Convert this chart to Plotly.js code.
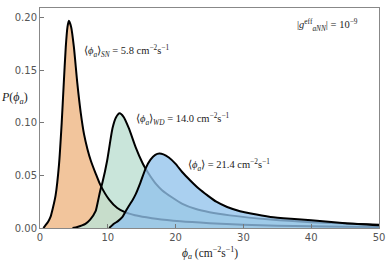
<!DOCTYPE html>
<html>
<head>
<meta charset="utf-8">
<script src="https://cdn.plot.ly/plotly-3.0.1.min.js"></script>
<style>html,body{margin:0;padding:0;background:#fff;}#chart{width:392px;height:261px;}</style>
</head>
<body>
<div id="chart"></div>
<script>
// Supernova (SN) distribution
const snX = [0.5, 0.8, 1.2, 1.55, 1.9, 2.3, 2.8, 3.2, 3.5, 3.8, 4.05, 4.26, 4.6, 5.0, 5.5, 6.0, 6.5, 7.0, 7.5, 8.2, 8.9, 10.2, 11.4, 12.6, 14.0, 15.7, 17.1, 20.7, 25, 30, 35, 40, 45, 50];
const snY = [0, 0.0025, 0.006, 0.0105, 0.019, 0.031, 0.060, 0.100, 0.137, 0.172, 0.191, 0.197, 0.191, 0.172, 0.138, 0.110, 0.089, 0.075, 0.064, 0.052, 0.041, 0.027, 0.019, 0.0148, 0.0122, 0.0102, 0.0088, 0.0064, 0.0046, 0.0031, 0.0022, 0.0016, 0.0012, 0.0009];
// White dwarf (WD) distribution
const wdX = [4.8, 5.5, 6.2, 6.7, 7.4, 8.2, 8.5, 8.9, 9.2, 9.9, 10.3, 10.7, 11.2, 11.74, 12.3, 13.1, 14.1, 15.1, 15.6, 16.3, 17.1, 18.0, 19.5, 21.0, 23.0, 25.0, 28.0, 34.0, 40.0, 50.0];
const wdY = [0, 0.001, 0.0025, 0.004, 0.008, 0.016, 0.024, 0.036, 0.043, 0.064, 0.080, 0.095, 0.105, 0.109, 0.106, 0.095, 0.077, 0.062, 0.056, 0.049, 0.042, 0.036, 0.029, 0.023, 0.018, 0.015, 0.012, 0.008, 0.0055, 0.003];
// Combined distribution
const totX = [10.2, 10.9, 11.5, 12.1, 12.6, 13.1, 13.6, 14.1, 14.8, 15.6, 16.3, 17.0, 17.6, 18.2, 19.0, 20.0, 21.0, 22.2, 23.5, 24.7, 26.0, 27.6, 29.5, 31.1, 34.0, 37.0, 40.0, 45.0, 50.0];
const totY = [0, 0.004, 0.0065, 0.010, 0.0155, 0.021, 0.026, 0.032, 0.043, 0.057, 0.065, 0.0695, 0.0708, 0.070, 0.067, 0.061, 0.053, 0.045, 0.037, 0.031, 0.025, 0.020, 0.016, 0.0137, 0.0105, 0.0087, 0.0073, 0.0045, 0.0026];

const xTicks = [0, 10, 20, 30, 40, 50];
const yTicks = [0, 0.05, 0.10, 0.15, 0.20];
const yTickText = ['0.00', '0.05', '0.10', '0.15', '0.20'];

function fillTrace(x, y, color) {
  return {x: x, y: y, type: 'scatter', mode: 'lines', fill: 'tozeroy', fillcolor: color,
          line: {width: 0, shape: 'spline', smoothing: 0.6}, hoverinfo: 'skip', showlegend: false};
}
function lineTrace(x, y) {
  return {x: x, y: y, type: 'scatter', mode: 'lines',
          line: {width: 2, color: '#000', shape: 'spline', smoothing: 0.6}, hoverinfo: 'skip', showlegend: false};
}

const data = [
  fillTrace(snX, snY, 'rgb(242,197,156)'),
  fillTrace(wdX, wdY, 'rgba(192,224,212,0.85)'),
  lineTrace(snX, snY),
  lineTrace(wdX, wdY),
  fillTrace(totX, totY, 'rgba(146,195,236,0.78)'),
  lineTrace(totX, totY)
];

const serifFam = 'Liberation Serif';
const serif = {family: serifFam, size: 10.5, color: '#222'};
const tickFont = {family: 'DejaVu Sans', size: 10, color: '#555'};

const layout = {
  width: 392, height: 261,
  margin: {l: 39.5, r: 13, t: 8, b: 33},
  paper_bgcolor: '#fff', plot_bgcolor: '#fff',
  xaxis: {range: [0, 50], tickvals: xTicks, ticks: 'inside', ticklen: 4, tickcolor: '#777',
          showgrid: false, zeroline: false, showline: true, linecolor: '#888', linewidth: 1, mirror: true,
          tickfont: tickFont},
  yaxis: {range: [0, 0.2092], tickvals: yTicks, ticktext: yTickText, ticks: 'inside', ticklen: 4, tickcolor: '#777',
          showgrid: false, zeroline: false, showline: true, linecolor: '#888', linewidth: 1, mirror: true,
          tickfont: tickFont},
  annotations: [
    {x: 6.2, y: 0.168, xref: 'x', yref: 'y', xanchor: 'left', yanchor: 'middle', showarrow: false,
     text: '⟨<i>ϕ</i><sub><i>a</i></sub>⟩<sub><i>SN</i></sub> = 5.8 cm<sup>−2</sup>s<sup>−1</sup>', font: serif},
    {x: 13.8, y: 0.104, xref: 'x', yref: 'y', xanchor: 'left', yanchor: 'middle', showarrow: false,
     text: '⟨<i>ϕ</i><sub><i>a</i></sub>⟩<sub><i>WD</i></sub> = 14.0 cm<sup>−2</sup>s<sup>−1</sup>', font: serif},
    {x: 21.5, y: 0.0597, xref: 'x', yref: 'y', xanchor: 'left', yanchor: 'middle', showarrow: false,
     text: '⟨<i>ϕ</i><sub><i>a</i></sub>⟩ = 21.4 cm<sup>−2</sup>s<sup>−1</sup>', font: serif},
    {x: 37.6, y: 0.193, xref: 'x', yref: 'y', xanchor: 'left', yanchor: 'middle', showarrow: false,
     text: '|<i>g</i><sup>eff</sup><sub><i>aNN</i></sub>| = 10<sup>−9</sup>', font: serif},
    {x: 0, y: 0.1235, xref: 'paper', yref: 'y', xanchor: 'right', yanchor: 'middle', xshift: -10, showarrow: false,
     text: '<i>P</i>(<i>ϕ</i><sub><i>a</i></sub>)', font: {family: serifFam, size: 12, color: '#222'}},
    {x: 25, y: 0, xref: 'x', yref: 'paper', xanchor: 'center', yanchor: 'top', yshift: -15, showarrow: false,
     text: '<i>ϕ</i><sub><i>a</i></sub> (cm<sup>−2</sup>s<sup>−1</sup>)', font: {family: serifFam, size: 11.5, color: '#222'}}
  ]
};

Plotly.newPlot('chart', data, layout, {staticPlot: true, displayModeBar: false});
</script>
</body>
</html>
